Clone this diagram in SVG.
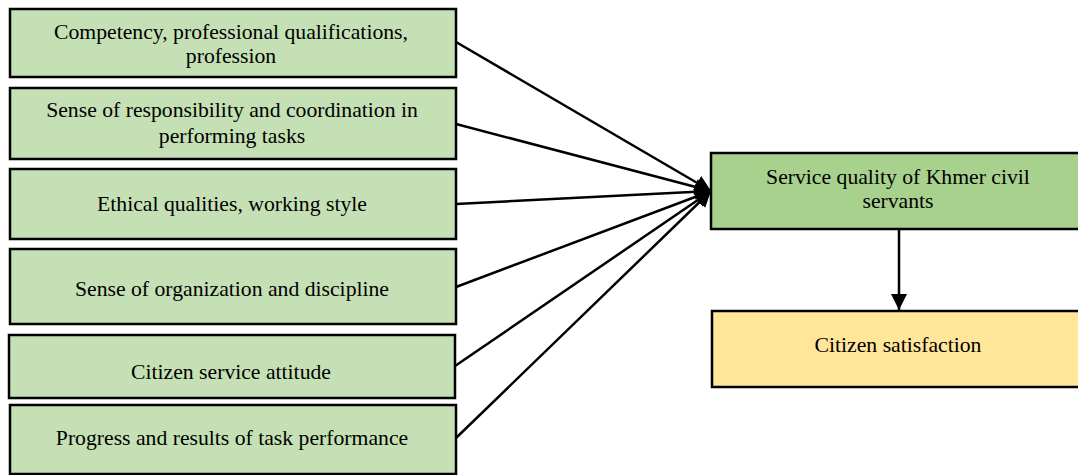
<svg xmlns="http://www.w3.org/2000/svg" width="1078" height="475" viewBox="0 0 1078 475">
<defs>
<style>
.box{stroke:#000;stroke-width:2.5}
.lg{fill:#c5e0b4}
.dg{fill:#a9d18e}
.yl{fill:#ffe699}
text{font-family:"Liberation Serif","Times New Roman",serif;font-size:21.7px;fill:#000;text-anchor:middle}
.conn line{stroke:#000;stroke-width:2.5}
</style>
<marker id="ah" markerUnits="userSpaceOnUse" markerWidth="17" markerHeight="18" refX="16" refY="9" orient="auto">
<path d="M0,1 L16,9 L0,17 z" fill="#000"/>
</marker>
</defs>
<rect width="1078" height="475" fill="#fff"/>
<g id="n1"><rect class="box lg" x="10" y="9" width="446" height="68"/><text x="231" y="39">Competency, professional qualifications,</text><text x="231" y="63">profession</text></g>
<g id="n2"><rect class="box lg" x="10" y="88" width="446" height="71"/><text x="232" y="117">Sense of responsibility and coordination in</text><text x="232" y="143">performing tasks</text></g>
<g id="n3"><rect class="box lg" x="10" y="169" width="446" height="70"/><text x="232" y="211">Ethical qualities, working style</text></g>
<g id="n4"><rect class="box lg" x="10" y="249" width="446" height="75"/><text x="232" y="296">Sense of organization and discipline</text></g>
<g id="n5"><rect class="box lg" x="9" y="335" width="446" height="63"/><text x="231" y="379">Citizen service attitude</text></g>
<g id="n6"><rect class="box lg" x="10" y="405" width="446" height="69"/><text x="232" y="445">Progress and results of task performance</text></g>
<g id="n7"><rect class="box dg" x="711" y="153" width="380" height="76"/><text x="898" y="184">Service quality of Khmer civil</text><text x="898" y="208">servants</text></g>
<g id="n8"><rect class="box yl" x="712" y="311" width="380" height="76"/><text x="898" y="352">Citizen satisfaction</text></g>
<g id="connectors" class="conn">
<line x1="456" y1="42" x2="711" y2="191" marker-end="url(#ah)"/>
<line x1="456" y1="124" x2="711" y2="191" marker-end="url(#ah)"/>
<line x1="456" y1="204" x2="711" y2="191" marker-end="url(#ah)"/>
<line x1="456" y1="287" x2="711" y2="191" marker-end="url(#ah)"/>
<line x1="455" y1="366" x2="711" y2="191" marker-end="url(#ah)"/>
<line x1="456" y1="438" x2="711" y2="191" marker-end="url(#ah)"/>
<line x1="899" y1="229" x2="899" y2="310" marker-end="url(#ah)"/>
</g>
</svg>
